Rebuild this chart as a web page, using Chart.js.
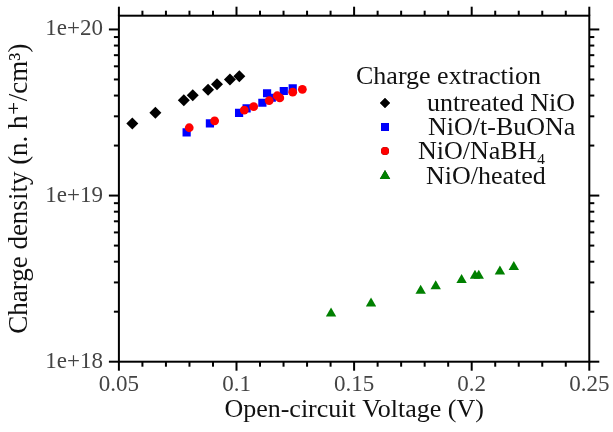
<!DOCTYPE html>
<html>
<head>
<meta charset="utf-8">
<script src="https://cdn.jsdelivr.net/npm/chart.js@4"></script>
<style>
  body { margin: 0; background: #fff; }
  #wrap { width: 613px; height: 432px; }
</style>
</head>
<body>
<div id="wrap"><canvas id="chart" width="613" height="432"></canvas></div>
<script>
// --- DATA ---
const seriesNames = ['untreated NiO', 'NiO/t-BuONa', 'NiO/NaBH\u2084', 'NiO/heated'];

const untreatedX = [0.0557, 0.0655, 0.0776, 0.0814, 0.0879, 0.0917, 0.0972, 0.1012];
const untreatedY = [2.72e19, 3.15e19, 3.75e19, 4.02e19, 4.34e19, 4.68e19, 4.99e19, 5.22e19];

const buonaX = [0.0788, 0.0887, 0.1011, 0.1043, 0.1110, 0.1130, 0.1150, 0.1201, 0.1239];
const buonaY = [2.40e19, 2.72e19, 3.15e19, 3.35e19, 3.62e19, 4.13e19, 3.88e19, 4.26e19, 4.42e19];

const nabh4X = [0.0799, 0.0907, 0.1033, 0.1073, 0.1139, 0.1173, 0.1184, 0.1239, 0.1280];
const nabh4Y = [2.56e19, 2.82e19, 3.27e19, 3.43e19, 3.73e19, 3.99e19, 3.87e19, 4.19e19, 4.36e19];

const heatedX = [0.1402, 0.1572, 0.1783, 0.1847, 0.1957, 0.2014, 0.2030, 0.2120, 0.2179];
const heatedY = [1.95e18, 2.24e18, 2.67e18, 2.85e18, 3.10e18, 3.29e18, 3.29e18, 3.49e18, 3.72e18];

// --- TICKS ---
const xMajorTicks = [0.05, 0.1, 0.15, 0.2, 0.25];
const xTickLabels = ['0.05', '0.1', '0.15', '0.2', '0.25'];
const xMinorTicks = [0.06, 0.07, 0.08, 0.09, 0.11, 0.12, 0.13, 0.14, 0.16, 0.17, 0.18, 0.19, 0.21, 0.22, 0.23, 0.24];
const yMajorTicks = [1e18, 1e19, 1e20];
const yTickLabels = ['1e+18', '1e+19', '1e+20'];
const yMinorTicks = [2e18, 3e18, 4e18, 5e18, 6e18, 7e18, 8e18, 9e18,
                     2e19, 3e19, 4e19, 5e19, 6e19, 7e19, 8e19, 9e19];

const pairs = (xs, ys) => xs.map((x, i) => ({x: x, y: ys[i]}));
const SERIF = "'Liberation Serif', 'DejaVu Serif', serif";

// no extra room for overflowing tick labels, the frame is fixed
function noPad(s) { s.paddingLeft = 0; s.paddingRight = 0; s.paddingTop = 0; s.paddingBottom = 0; }

// --- FRAME, MIRRORED TICKS, LEGEND ---
const framePlugin = {
    id: 'frame',
    afterDraw(chart) {
        const ctx = chart.ctx;
        const {left, right, top, bottom} = chart.chartArea;
        const xs = chart.scales.x, ys = chart.scales.y;
        ctx.save();
        ctx.strokeStyle = '#000';
        ctx.lineWidth = 2;
        ctx.strokeRect(left, top, right - left, bottom - top);

        const tick = (x1, y1, x2, y2) => { ctx.beginPath(); ctx.moveTo(x1, y1); ctx.lineTo(x2, y2); ctx.stroke(); };
        xMajorTicks.forEach(v => { const p = xs.getPixelForValue(v); tick(p, bottom, p, bottom + 9); tick(p, top, p, top - 9); });
        xMinorTicks.forEach(v => { const p = xs.getPixelForValue(v); tick(p, bottom, p, bottom + 5); tick(p, top, p, top - 5); });
        yMajorTicks.forEach(v => { const p = ys.getPixelForValue(v); tick(left, p, left - 10, p); tick(right, p, right + 10, p); });
        yMinorTicks.forEach(v => { const p = ys.getPixelForValue(v); tick(left, p, left - 5, p); tick(right, p, right + 5, p); });

        // legend
        ctx.fillStyle = '#111';
        ctx.textBaseline = 'middle';
        ctx.textAlign = 'left';
        ctx.font = '26px ' + SERIF;
        ctx.fillText('Charge extraction', 356, 77);
        const rows = [103, 127, 151, 176];
        const textX = [427, 428, 418, 426];
        chart.data.datasets.forEach((ds, i) => {
            Chart.helpers.drawPoint(ctx, {
                pointStyle: ds.pointStyle, radius: ds.legendRadius, borderWidth: 0, rotation: 0
            }, 385, rows[i]);
            ctx.fillStyle = ds.backgroundColor;
            ctx.fill();
            ctx.fillStyle = '#111';
            ctx.fillText(seriesNames[i], textX[i], rows[i] + 1);
        });
        ctx.restore();
    }
};

new Chart(document.getElementById('chart'), {
    type: 'scatter',
    data: {
        datasets: [
            { label: seriesNames[0], data: pairs(untreatedX, untreatedY), pointStyle: 'rectRot',
              backgroundColor: '#000', borderColor: '#000', pointRadius: 6, legendRadius: 5, order: 1 },
            { label: seriesNames[1], data: pairs(buonaX, buonaY), pointStyle: 'rect',
              backgroundColor: '#0000ff', borderColor: '#0000ff', pointRadius: 5.8, legendRadius: 5.6, order: 3 },
            { label: seriesNames[2], data: pairs(nabh4X, nabh4Y), pointStyle: 'circle',
              backgroundColor: '#ff0000', borderColor: '#ff0000', pointRadius: 4.4, legendRadius: 4, order: 2 },
            { label: seriesNames[3], data: pairs(heatedX, heatedY), pointStyle: 'triangle',
              backgroundColor: '#008000', borderColor: '#008000', pointRadius: 6, legendRadius: 6, order: 4 }
        ]
    },
    options: {
        responsive: false,
        animation: false,
        devicePixelRatio: 1,
        layout: { padding: { left: 0, right: 23.7, top: 15.7, bottom: 0 } },
        elements: { point: { borderWidth: 0, hoverRadius: 6 } },
        plugins: { legend: { display: false }, tooltip: { enabled: false } },
        scales: {
            x: {
                type: 'linear', min: 0.05, max: 0.25,
                grid: { display: false, drawTicks: false },
                border: { display: false },
                afterBuildTicks: s => { s.ticks = xMajorTicks.map(v => ({value: v})); },
                afterFit: s => { s.height = 70.3; noPad(s); },
                ticks: {
                    padding: 9, color: '#444', font: { family: SERIF, size: 23 },
                    callback: (v, i) => xTickLabels[i]
                },
                title: { display: true, text: 'Open-circuit Voltage (V)', color: '#111',
                         font: { family: SERIF, size: 26 }, padding: { top: 0, bottom: 6 } }
            },
            y: {
                type: 'logarithmic', min: 1e18, max: 1.21e20,
                grid: { display: false, drawTicks: false },
                border: { display: false },
                afterBuildTicks: s => { s.ticks = yMajorTicks.map(v => ({value: v})); },
                afterFit: s => { s.width = 118.9; noPad(s); },
                ticks: {
                    padding: 16, color: '#444', font: { family: SERIF, size: 23 },
                    callback: (v, i) => yTickLabels[i]
                },
                title: { display: true, text: 'Charge density (n. h\u207A/cm\u00B3)', color: '#111',
                         font: { family: SERIF, size: 27 }, padding: { top: 4, bottom: 0 } }
            }
        }
    },
    plugins: [framePlugin]
});
</script>
</body>
</html>
